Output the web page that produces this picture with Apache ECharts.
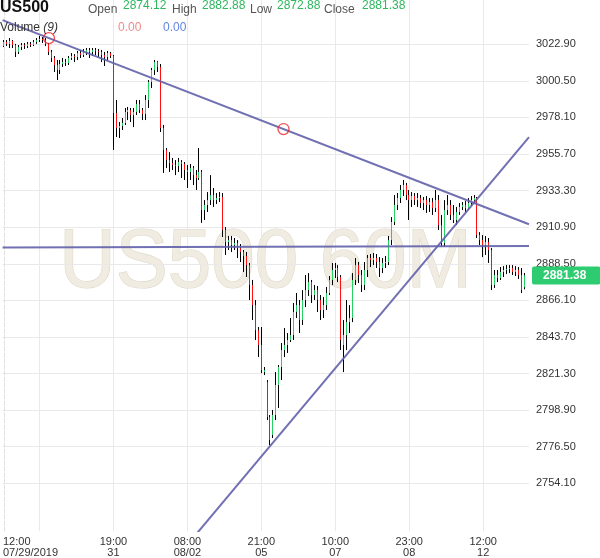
<!DOCTYPE html>
<html><head><meta charset="utf-8">
<script src="https://cdn.jsdelivr.net/npm/echarts@6/dist/echarts.min.js"></script>
<style>html,body{margin:0;padding:0;background:#fff}#c{width:600px;height:558px}</style>
</head><body><div id="c"></div>
<script>
// ---------- data ----------
const symbolName = 'US500';
const watermarkText = 'US500 60M';
const quote = { open: 2874.12, high: 2882.88, low: 2872.88, close: 2881.38 };
const volumeValues = [0.00, 0.00];
const xTickLabels = ['12:00\n07/29/2019', '19:00\n31', '08:00\n08/02', '21:00\n05', '10:00\n07', '23:00\n08', '12:00\n12'];
const xTickIndex = [12, 37, 62, 87, 112, 137, 162];
const slotCount = 178;
const yTicks = [3022.90, 3000.50, 2978.10, 2955.70, 2933.30, 2910.90, 2888.50, 2866.10, 2843.70, 2821.30, 2798.90, 2776.50, 2754.10];
const yRange = [2724.9, 3050.0];
// [open, close, low, high]
const candles = [
[3021.8,3024.3,3021.2,3025.5],[3024.3,3023.1,3021.8,3025.5],[3023.1,3024.9,3020.6,3026.7],[3024.9,3022.4,3020.6,3025.5],
[3022.4,3018.2,3015.1,3023.1],[3018.2,3021.2,3016.9,3022.4],[3021.2,3022.4,3019.4,3023.7],[3022.4,3021.8,3020.0,3023.7],
[3021.8,3023.1,3020.6,3024.3],[3023.1,3022.4,3021.2,3024.3],[3022.4,3024.3,3021.8,3025.5],[3024.3,3025.5,3023.1,3026.7],
[3025.5,3026.1,3024.3,3028.0],[3026.1,3025.5,3023.7,3027.3],[3025.5,3023.1,3021.8,3026.7],[3023.1,3018.2,3016.3,3023.7],
[3018.2,3014.5,3012.0,3019.4],[3014.5,3010.2,3005.9,3015.7],[3010.2,3007.1,3001.0,3013.3],[3007.1,3010.8,3004.7,3013.3],
[3010.8,3012.0,3009.0,3014.5],[3012.0,3011.4,3009.6,3013.9],[3011.4,3014.5,3010.2,3015.7],[3014.5,3015.7,3013.3,3017.5],
[3015.7,3015.1,3012.0,3016.9],[3015.1,3017.5,3013.3,3018.8],[3017.5,3016.3,3014.5,3019.4],[3016.3,3018.2,3015.1,3020.0],
[3018.2,3019.4,3016.3,3020.6],[3019.4,3018.2,3014.5,3020.6],[3018.2,3019.4,3015.7,3020.6],[3019.4,3018.8,3016.3,3020.6],
[3018.8,3018.2,3015.1,3020.0],[3018.2,3016.3,3012.0,3019.4],[3016.3,3015.1,3009.6,3018.2],[3015.1,3017.5,3013.3,3018.8],
[3017.5,3015.7,3014.5,3018.2],[3015.7,2980.8,2958.2,3016.3],[2980.8,2971.6,2966.1,2988.8],[2971.6,2972.9,2965.5,2975.3],
[2972.9,2974.7,2970.4,2977.7],[2974.7,2981.4,2973.5,2983.9],[2981.4,2982.6,2976.5,2984.5],[2982.6,2979.6,2975.3,2983.9],
[2979.6,2981.4,2972.2,2983.9],[2981.4,2986.3,2979.6,2988.8],[2986.3,2982.6,2980.8,2988.8],[2982.6,2980.2,2976.5,2983.9],
[2980.2,2988.8,2976.5,2991.8],[2988.8,2999.8,2983.9,3001.0],[2999.8,3007.1,2996.1,3008.4],[3007.1,3012.0,3004.1,3013.3],
[3012.0,3009.0,3005.9,3012.6],[3009.0,2971.6,2969.2,3010.8],[2971.6,2958.2,2944.1,2973.5],[2958.2,2952.0,2947.1,2959.4],
[2952.0,2950.2,2944.7,2956.9],[2950.2,2949.0,2945.9,2953.3],[2949.0,2948.4,2942.8,2952.0],[2948.4,2950.8,2944.7,2953.3],
[2950.8,2949.6,2941.0,2952.0],[2949.6,2945.9,2939.8,2950.8],[2945.9,2944.7,2934.9,2949.0],[2944.7,2947.1,2939.8,2949.6],
[2947.1,2942.8,2936.7,2948.4],[2942.8,2941.0,2933.7,2945.9],[2941.0,2944.7,2939.8,2959.4],[2944.7,2921.4,2913.5,2945.9],
[2921.4,2924.5,2915.3,2927.5],[2924.5,2927.5,2920.2,2932.4],[2927.5,2930.6,2924.5,2942.8],[2930.6,2927.5,2923.3,2934.9],
[2927.5,2928.8,2925.1,2931.8],[2928.8,2929.4,2926.3,2932.4],[2929.4,2909.2,2904.9,2931.8],[2909.2,2901.8,2893.9,2911.0],
[2901.8,2903.0,2896.9,2905.5],[2903.0,2900.0,2895.7,2905.5],[2900.0,2901.2,2896.9,2904.3],[2901.2,2898.1,2892.0,2903.0],
[2898.1,2895.7,2889.6,2900.6],[2895.7,2893.3,2883.5,2896.9],[2893.3,2887.7,2880.4,2895.7],[2887.7,2875.5,2866.3,2889.0],
[2875.5,2863.2,2854.1,2878.6],[2863.2,2847.9,2841.8,2866.3],[2847.9,2838.8,2831.4,2849.8],[2838.8,2823.4,2821.6,2849.8],
[2822.2,2823.4,2820.4,2825.3],[2816.1,2794.7,2792.8,2817.3],[2794.7,2780.6,2777.5,2795.9],[2783.7,2795.9,2781.8,2799.0],
[2795.9,2814.3,2792.8,2822.2],[2814.3,2825.3,2800.2,2826.5],[2825.3,2835.7,2817.3,2840.0],[2835.7,2838.8,2831.4,2849.2],
[2838.8,2841.8,2833.9,2846.1],[2841.8,2844.9,2840.6,2855.3],[2844.9,2859.0,2841.8,2864.5],[2859.0,2863.2,2855.3,2870.6],
[2863.2,2854.1,2846.1,2866.3],[2854.1,2866.3,2851.0,2872.4],[2866.3,2872.4,2862.0,2881.6],[2872.4,2877.3,2868.8,2882.8],
[2877.3,2869.4,2864.5,2878.6],[2869.4,2872.4,2866.3,2875.5],[2872.4,2866.3,2859.0,2874.9],[2866.3,2860.2,2854.1,2869.4],
[2860.2,2863.2,2855.3,2868.2],[2863.2,2870.6,2860.2,2874.3],[2870.6,2878.6,2869.4,2881.0],[2878.6,2884.7,2875.5,2889.0],
[2884.7,2885.9,2879.8,2889.0],[2885.9,2880.4,2877.3,2887.7],[2880.4,2841.8,2835.7,2881.6],[2838.8,2844.9,2822.2,2854.1],
[2844.9,2852.8,2835.7,2866.3],[2852.8,2855.3,2846.1,2863.2],[2855.3,2878.6,2852.8,2882.8],[2878.6,2887.7,2875.5,2892.0],
[2887.7,2881.6,2876.7,2889.6],[2881.6,2875.5,2871.2,2884.7],[2875.5,2884.7,2872.4,2889.6],[2884.7,2892.0,2880.4,2893.9],
[2892.0,2890.8,2886.5,2894.5],[2890.8,2892.0,2887.7,2895.1],[2892.0,2889.6,2885.9,2894.5],[2889.6,2885.9,2880.4,2892.6],
[2885.9,2889.0,2882.8,2892.0],[2889.0,2889.6,2885.9,2893.3],[2889.6,2903.0,2887.7,2905.5],[2903.0,2914.1,2900.0,2917.1],
[2914.1,2924.5,2912.2,2930.6],[2924.5,2928.8,2921.4,2931.8],[2928.8,2933.7,2925.7,2936.7],[2933.7,2936.7,2930.0,2939.8],
[2936.7,2930.6,2927.5,2938.0],[2930.6,2927.5,2915.3,2933.7],[2927.5,2930.0,2923.3,2932.4],[2930.0,2927.5,2924.5,2931.8],
[2927.5,2928.8,2923.3,2931.8],[2928.8,2925.7,2922.6,2930.6],[2925.7,2927.5,2921.4,2929.4],[2927.5,2924.5,2919.6,2930.0],
[2924.5,2926.3,2920.2,2928.8],[2926.3,2922.6,2918.4,2928.8],[2922.6,2927.5,2920.2,2933.7],[2927.5,2912.2,2909.2,2930.6],
[2912.2,2901.2,2898.8,2918.4],[2901.2,2921.4,2898.8,2927.5],[2921.4,2924.5,2918.4,2930.6],[2924.5,2918.4,2915.3,2927.5],
[2918.4,2915.3,2913.5,2924.5],[2915.3,2920.2,2912.2,2923.3],[2920.2,2923.3,2918.4,2925.7],[2923.3,2924.5,2921.4,2926.3],
[2924.5,2922.6,2920.2,2926.9],[2922.6,2925.7,2921.4,2928.8],[2925.7,2927.5,2923.9,2930.0],[2927.5,2928.8,2925.7,2930.6],
[2928.8,2906.1,2904.3,2929.4],[2906.1,2903.0,2900.0,2907.9],[2903.0,2900.0,2892.6,2906.1],[2900.0,2901.8,2893.9,2905.5],
[2901.8,2896.9,2889.0,2904.3],[2896.9,2875.5,2872.4,2898.1],[2875.5,2881.6,2873.7,2884.7],[2881.6,2879.8,2877.3,2884.7],
[2879.8,2883.5,2878.6,2886.5],[2883.5,2884.7,2880.4,2887.1],[2884.7,2885.3,2882.2,2887.7],[2885.3,2885.9,2882.8,2887.7],
[2885.9,2883.5,2881.6,2887.7],[2883.5,2884.7,2881.0,2887.1],[2884.7,2881.6,2879.2,2886.5],[2881.6,2872.4,2870.6,2885.9],
[2874.12,2881.38,2872.88,2882.88]
];
// trend lines drawn on the chart: [barIndex, price] endpoints
const downTrend = [[-0.5, 3037.7], [177.5, 2912.7]];
const flatLine = [[-0.5, 2898.5], [177.5, 2899.4]];
const upTrend = [[60, 2712.2], [177.5, 2966.1]];
const anchorPoints = [[15.2, 3026.7], [94.5, 2971.0]];

// ---------- chart ----------
const GREEN = '#27d062', RED = '#ff1010', LINE = 'rgba(96,96,170,0.9)', GRID = '#e9e9e9';
const FONT = '"Liberation Sans", Arial, sans-serif';
const categories = Array.from({ length: slotCount }, (_, i) => String(i));
// wick: full low..high range drawn as a thin black bar; body: open..close coloured on top
const wicks = candles.map(([o, c, l, h]) => [l, h, l, h]);
const bodies = candles.map(([o, c]) => [o, c, Math.min(o, c), Math.max(o, c)]);
const tickFn = (idx) => xTickIndex.indexOf(idx) >= 0;

const chart = echarts.init(document.getElementById('c'), null, { renderer: 'canvas' });
const txt = (x, y, text, fill, extra) => ({
  type: 'text', x, y, z: 10,
  style: Object.assign({ text, fill, font: '12px ' + FONT, textVerticalAlign: 'middle' }, extra || {})
});
chart.setOption({
  animation: false,
  backgroundColor: '#fff',
  grid: { left: 0, right: 71, top: 0, bottom: 27 },
  xAxis: [{
    type: 'category', data: categories, boundaryGap: true, z: 1,
    axisLine: { show: false }, axisTick: { show: false, interval: tickFn, alignWithLabel: true },
    axisLabel: {
      interval: tickFn, fontSize: 11, color: '#333', lineHeight: 11, margin: 5, fontFamily: FONT,
      formatter: (v) => {
        const k = xTickIndex.indexOf(Number(v));
        if (k < 0) return '';
        const lines = xTickLabels[k].split('\n');
        if (k === 0) return lines.map(s => '{first|' + s + '}').join('\n');
        return xTickLabels[k];
      },
      rich: { first: { align: 'left', fontSize: 11, lineHeight: 11, color: '#333', padding: [0, 18, 0, 0], fontFamily: FONT } }
    },
    splitLine: { show: true, interval: tickFn, alignWithLabel: true, lineStyle: { color: GRID, width: 1 } }
  }, {
    type: 'value', min: -0.5, max: slotCount - 0.5, show: false
  }],
  yAxis: {
    type: 'value', position: 'right', min: yRange[0], max: yRange[1], z: 1,
    axisLine: { show: true, lineStyle: { color: '#e0e0e0', type: 'dashed' } },
    axisTick: { show: false, customValues: yTicks },
    axisLabel: { customValues: yTicks, formatter: v => Number(v).toFixed(2), fontSize: 11, color: '#333', margin: 7, fontFamily: FONT },
    splitLine: { show: true, lineStyle: { color: GRID, width: 1 } }
  },
  graphic: [
    { type: 'text', x: 265.5, y: 264, z: -10, zlevel: 0, scaleX: 0.93, originX: 0, originY: 0, silent: true,
      style: { text: watermarkText, font: '84px ' + FONT, fill: '#f0ece2', stroke: '#ddd7c6', lineWidth: 1.2, textAlign: 'center', textVerticalAlign: 'middle' } },
    txt(0, 8, symbolName, '#111', { font: 'bold 16px ' + FONT }),
    txt(88, 10, 'Open', '#555'),
    txt(123, 6, quote.open.toFixed(2), '#2db85e'),
    txt(172, 10, 'High', '#555'),
    txt(202, 6, quote.high.toFixed(2), '#2db85e'),
    txt(250, 10, 'Low', '#555'),
    txt(277, 6, quote.low.toFixed(2), '#2db85e'),
    txt(324, 10, 'Close', '#555'),
    txt(362, 6, quote.close.toFixed(2), '#2db85e'),
    txt(0, 28, '{a|Volume }{b|(9)}', '#333', { rich: { a: { font: '12px ' + FONT, fill: '#333' }, b: { font: 'italic 12px ' + FONT, fill: '#333' } } }),
    txt(118, 28, volumeValues[0].toFixed(2), '#f08a8a'),
    txt(163, 28, volumeValues[1].toFixed(2), '#5f86e0')
  ],
  series: [{
    name: 'wick', type: 'candlestick', xAxisIndex: 0, yAxisIndex: 0, data: wicks, barWidth: 1.2, silent: true,
    itemStyle: { color: '#000', color0: '#000', borderColor: '#000', borderColor0: '#000', borderColorDoji: '#000', borderWidth: 1 },
    z: 2
  }, {
    name: 'body', type: 'candlestick', xAxisIndex: 0, yAxisIndex: 0, data: bodies, barWidth: 1.2, silent: true,
    itemStyle: { color: GREEN, color0: RED, borderColor: GREEN, borderColor0: RED, borderColorDoji: '#000', borderWidth: 1 },
    z: 3,
    markLine: {
      silent: true, symbol: 'none', animation: false, z: 6,
      data: [{ yAxis: quote.close }],
      lineStyle: { color: 'rgba(0,0,0,0)', width: 0 },
      label: { show: true, position: 'end', distance: 3, formatter: () => quote.close.toFixed(2),
        backgroundColor: '#2ecc71', color: '#fff', fontWeight: 'bold', fontSize: 12, padding: [3, 14, 3, 11], borderRadius: 2,
        fontFamily: FONT }
    }
  }, ...[downTrend, flatLine, upTrend].map(d => ({
    type: 'line', xAxisIndex: 1, yAxisIndex: 0, data: d, symbol: 'none', silent: true, z: 4,
    lineStyle: { color: LINE, width: 2 }
  })), {
    type: 'scatter', xAxisIndex: 1, yAxisIndex: 0, data: anchorPoints, symbol: 'circle', symbolSize: 11, silent: true, z: 5,
    itemStyle: { color: 'rgba(0,0,0,0)', borderColor: '#e8262a', borderWidth: 1.3 }
  }]
});
</script>
</body></html>
